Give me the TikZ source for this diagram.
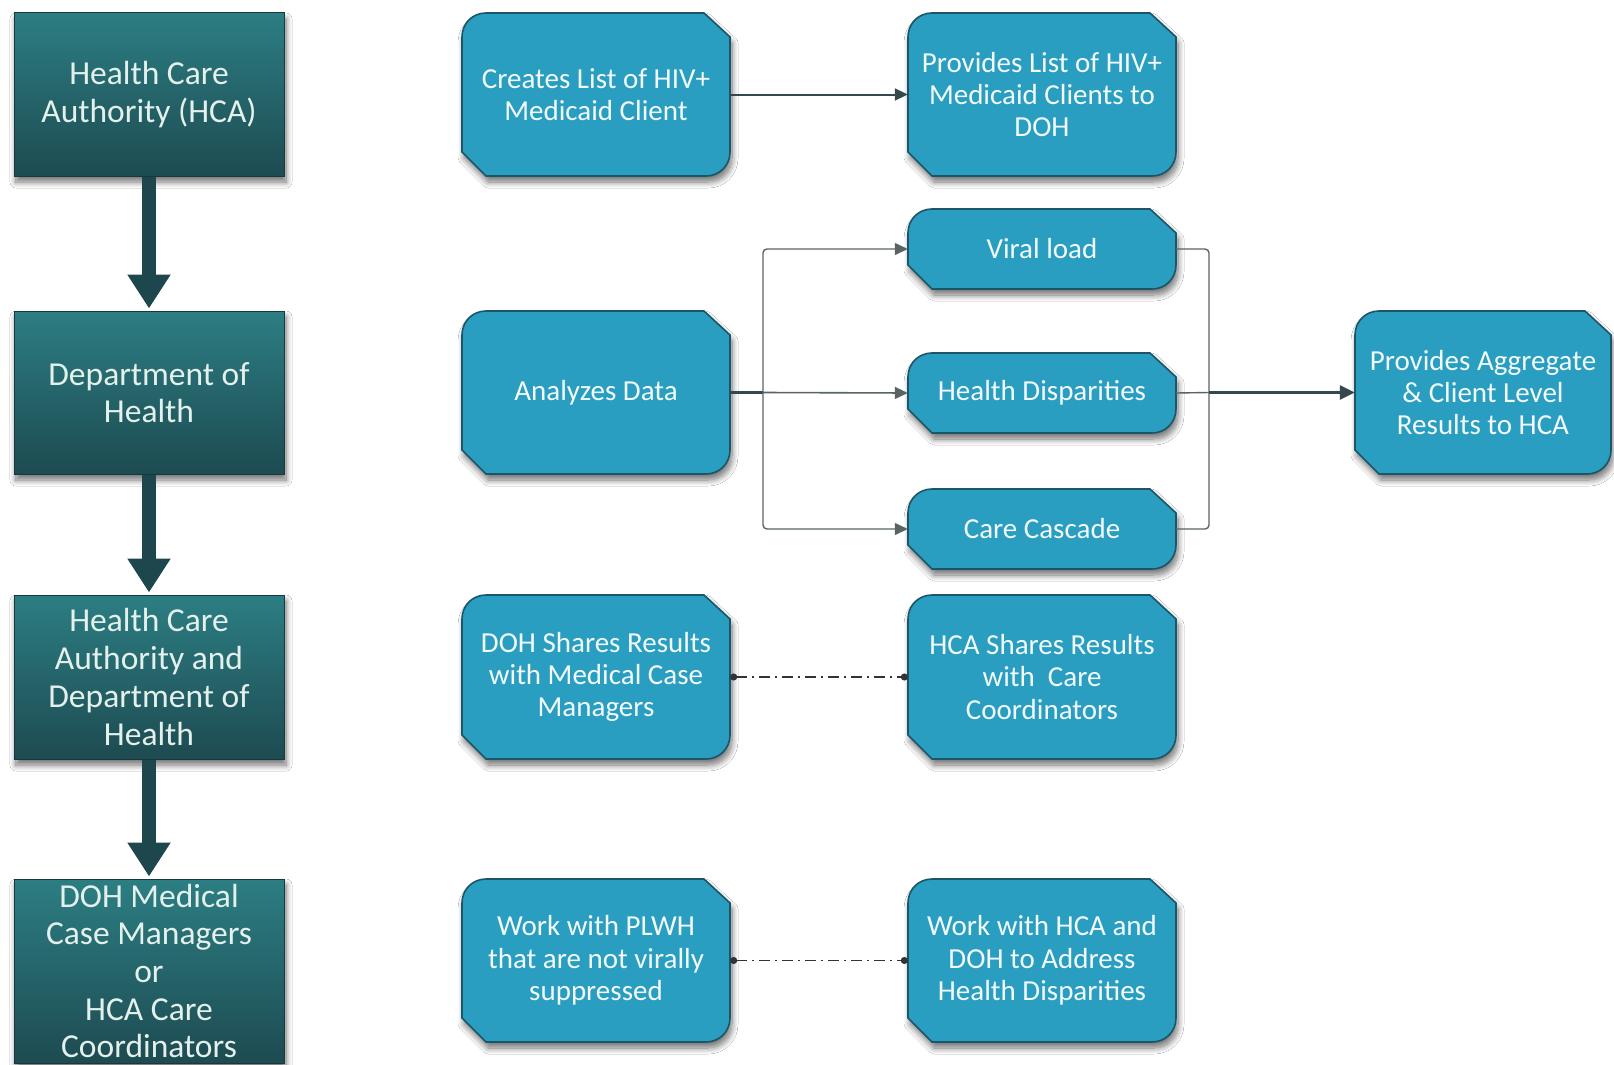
\documentclass[tikz,border=0pt]{standalone}
\usepackage{fontspec}
\setmainfont{Carlito}
\usetikzlibrary{arrows.meta,shadows.blur}
\definecolor{tealtop}{HTML}{2C7E83}
\definecolor{tealbot}{HTML}{1D4B51}
\definecolor{tealedge}{HTML}{17393D}
\definecolor{bluefill}{HTML}{2A9EC0}
\definecolor{blueedge}{HTML}{1B5568}
\definecolor{darkarrow}{HTML}{1D474C}
\definecolor{lineclr}{HTML}{34494B}
\definecolor{grayline}{HTML}{5A6465}
\definecolor{lefttext}{HTML}{E4F0EC}
\definecolor{bluetext}{HTML}{F2FAFC}
\tikzset{
  myshadow/.style={blur shadow={shadow xshift=2pt, shadow yshift=-6pt, shadow blur radius=6pt, shadow blur steps=10, shadow opacity=55}},
  leftbox/.style={draw=tealedge, line width=1pt, top color=tealtop, bottom color=tealbot, myshadow,
    minimum width=270pt, inner sep=0pt, text=lefttext, align=center,
    font=\fontsize{33.5}{37.7}\selectfont},
  bshape/.style={fill=bluefill, draw=blueedge, line width=1.6pt, myshadow},
  btext/.style={inner sep=0pt, text=bluetext, align=center, font=\fontsize{29}{32.4}\selectfont},
  bigarrow/.style={draw=darkarrow, line width=14pt, -{Triangle[width=41pt,length=34pt]}, shorten >=2pt},
  thinarrow/.style={draw=lineclr, line width=2pt, -{Triangle[width=12pt,length=13pt]}},
  grayconn/.style={draw=grayline, line width=1.4pt, rounded corners=4pt},
  dashdotconn/.style={draw=black!80, line width=1.5pt, dash pattern=on 11pt off 5pt on 2pt off 5pt,
    {Circle[length=7pt]}-{Circle[length=7pt]}}
}
% blue box: rounded top-left and bottom-right corners, chamfered top-right and bottom-left
\newcommand{\bluebox}[6]{%
  \path[bshape] ({#2+24},#5) -- (#2,{#5-24})
    -- (#2,{#3+24}) .. controls (#2,{#3+10.5}) and ({#2+10.5},#3) .. ({#2+24},#3)
    -- ({#4-26},#3) -- (#4,{#3+24})
    -- (#4,{#5-24}) .. controls (#4,{#5-10.5}) and ({#4-10.5},#5) .. ({#4-24},#5) -- cycle;
  \node[btext, minimum width={#4-#2}, minimum height={#5-#3}] (#1) at ({(#2+#4)/2},{(#3+#5)/2}) {#6};
}
\begin{document}
\begin{tikzpicture}[x=1pt,y=-1pt]
\useasboundingbox[fill=white] (0,0) rectangle (1614,1065);

% left column
\node[leftbox, minimum height=163pt] (b1) at (149,94.5) {Health Care\\Authority (HCA)};
\node[leftbox, minimum height=163pt] (b2) at (149,392.5) {Department of\\Health};
\node[leftbox, minimum height=164pt] (b3) at (149,677) {Health Care\\Authority and\\Department of\\Health};
\node[leftbox, minimum height=184pt] (b4) at (149,971) {DOH Medical\\Case Managers\\or\\HCA Care\\Coordinators};

\draw[bigarrow] (b1.south) -- (b2.north);
\draw[bigarrow] (b2.south) -- (b3.north);
\draw[bigarrow] (b3.south) -- (b4.north);

% blue boxes
\bluebox{cre}{462}{13}{730}{176}{Creates List of HIV+\\Medicaid Client}
\bluebox{prl}{908}{13}{1176}{176}{Provides List of HIV+\\Medicaid Clients to\\DOH}
\bluebox{vir}{908}{209}{1176}{289}{Viral load}
\bluebox{hdi}{908}{353}{1176}{433}{Health Disparities}
\bluebox{cca}{908}{489}{1176}{569}{Care Cascade}
\bluebox{ana}{462}{311}{730}{474}{Analyzes Data}
\bluebox{agg}{1355}{311}{1611}{474}{Provides Aggregate\\\& Client Level\\Results to HCA}
\bluebox{dsh}{462}{595}{730}{759}{DOH Shares Results\\with Medical Case\\Managers}
\bluebox{hsh}{908}{595}{1176}{759}{HCA Shares Results\\with~ Care\\Coordinators}
\bluebox{wpl}{462}{879}{730}{1042}{Work with PLWH\\that are not virally\\suppressed}
\bluebox{wha}{908}{879}{1176}{1042}{Work with HCA and\\DOH to Address\\Health Disparities}

% connectors
\draw[thinarrow] (cre.east) -- (prl.west);

\coordinate (split) at (763,392.5);
\coordinate (merge) at (1209,392.5);
\draw[draw=lineclr, line width=2.4pt] (ana.east) -- (split);
\draw[thinarrow, draw=grayline, line width=1.6pt] (split) -- (hdi.west);
\draw[grayconn, -{Triangle[width=12pt,length=13pt]}] (split) |- (vir.west);
\draw[grayconn, -{Triangle[width=12pt,length=13pt]}] (split) |- (cca.west);
\draw[grayconn] (vir.east) -| (merge);
\draw[grayconn] (cca.east) -| (merge);
\draw[grayconn] (hdi.east) -- (merge);
\draw[thinarrow, line width=2.6pt, -{Triangle[width=14pt,length=15pt]}] (merge) -- (agg.west);

\draw[dashdotconn] (dsh.east) -- (hsh.west);
\draw[dashdotconn] (wpl.east) -- (wha.west);
\end{tikzpicture}
\end{document}
